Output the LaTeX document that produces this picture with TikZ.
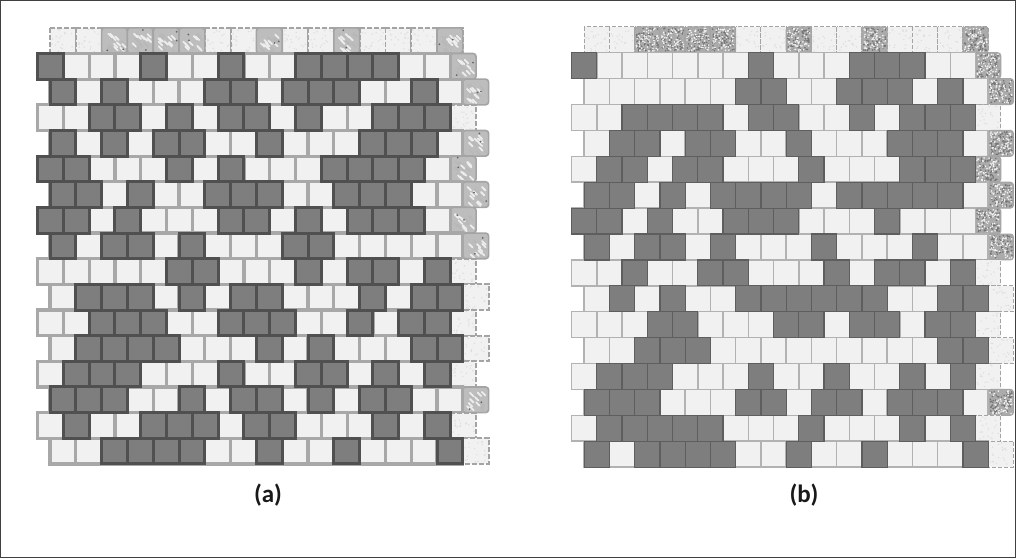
\documentclass[tikz,border=0pt]{standalone}
\usepackage{fontspec}
\setmainfont{Carlito}
\definecolor{lightfill}{HTML}{F1F1F1}
\definecolor{darkfill}{HTML}{7E7E7E}
\definecolor{edgeAlight}{HTML}{A8A8A8}
\definecolor{edgeAdark}{HTML}{505050}
\definecolor{edgeBlight}{HTML}{B2B2B2}
\definecolor{edgeBdark}{HTML}{5E5E5E}
\definecolor{grainbase}{HTML}{ABABAB}
\definecolor{coarsebase}{HTML}{BDBDBD}
\definecolor{selvedgeedge}{HTML}{A4A4A4}
\tikzset{
  lightA/.style={fill=lightfill,draw=edgeAlight,line width=3.2pt},
  darkA/.style={fill=darkfill,draw=edgeAdark,line width=3pt},
  lightB/.style={fill=lightfill,draw=edgeBlight,line width=1.5pt},
  darkB/.style={fill=darkfill,draw=edgeBdark,line width=1.2pt},
  coarseA/.style={fill=coarsebase,draw=selvedgeedge,line width=1.6pt,rounded corners=3pt},
  coarseB/.style={fill=grainbase,draw=selvedgeedge,line width=1pt,rounded corners=3pt},
  paleA/.style={fill=lightfill,draw=selvedgeedge,line width=1.8pt,dash pattern=on 5pt off 2pt},
  paleB/.style={fill=lightfill,draw=selvedgeedge,line width=1pt,dash pattern=on 4pt off 2pt},
  caption/.style={font=\bfseries\fontsize{25}{28}\selectfont,text=black!90,inner sep=0pt},
  frameline/.style={draw=black!75,line width=1pt}
}
% Dark list per row, selvedge kind: T textured, L light
\def\dataA{1/{0,4,7,10,11,12,13}/T,
2/{0,2,6,7,9,10,11,14}/T,
3/{2,3,5,7,8,10,13,14,15}/L,
4/{0,2,4,5,8,12,13,14}/T,
5/{0,1,5,7,11,12,13,14}/T,
6/{0,1,3,6,7,8,11,12,13}/T,
7/{0,1,3,7,8,10,12,13,14}/T,
8/{0,2,3,5,9,10}/T,
9/{5,6,10,12,13,15}/L,
10/{1,2,3,5,7,8,12,14,15}/L,
11/{2,3,4,7,8,9,12,14,15}/L,
12/{1,2,3,4,8,10,14,15}/L,
13/{1,2,3,7,10,11,13,15}/L,
14/{0,1,2,5,7,8,10,12,13}/T,
15/{1,4,5,6,8,9,13,15}/L,
16/{2,3,4,5,8,11,15}/L}
\def\dataB{1/{0,7,11,12,13}/T,
2/{6,7,10,11,12,14}/T,
3/{2,3,4,5,7,8,11,13,14,15}/L,
4/{1,2,4,5,8,12,13,14}/T,
5/{1,2,4,5,9,13,14,15}/T,
6/{0,1,3,5,6,7,8,10,11,12,13,14}/T,
7/{0,1,3,6,7,8,12}/T,
8/{0,2,3,5,9,13}/T,
9/{2,5,6,10,12,13,15}/L,
10/{1,3,6,7,8,9,10,11,14,15}/L,
11/{3,4,8,9,11,12,14,15}/L,
12/{2,3,4,14,15}/L,
13/{1,2,3,7,10,13,15}/L,
14/{0,1,2,6,7,9,10,12,13,14}/T,
15/{1,2,3,4,5,9,13,15}/L,
16/{0,2,3,4,5,8,11,15}/L}
% grain: x y w h count radius colour
\newcommand\grainspots[7]{%
  \foreach \k in {1,...,#5}{%
    \pgfmathsetmacro\gx{#1+1.5+rnd*(#3-3)}%
    \pgfmathsetmacro\gy{#2+1.5+rnd*(#4-3)}%
    \fill[#7] (\gx,\gy) circle (#6pt);
  }}
\newcommand\grainstrokes[6]{%
  \foreach \k in {1,...,#5}{%
    \pgfmathsetmacro\gx{#1+4+rnd*(#3-9)}%
    \pgfmathsetmacro\gy{#2+5+rnd*(#4-9)}%
    \draw[#6,line width=1.8pt,line cap=round] (\gx,\gy) -- ++(3.5,3.5);
  }}
\newcommand\textureA[4]{%
  \grainstrokes{#1}{#2}{#3}{#4}{9}{black!28}%
  \grainstrokes{#1}{#2}{#3}{#4}{9}{black!7}%
  \grainspots{#1}{#2}{#3}{#4}{2}{1}{black!60}}
\newcommand\textureB[4]{%
  \grainspots{#1}{#2}{#3}{#4}{70}{0.9}{black!55}%
  \grainspots{#1}{#2}{#3}{#4}{55}{0.9}{white!90!gray}}
\newcommand\texturePale[4]{%
  \grainspots{#1}{#2}{#3}{#4}{18}{0.8}{black!13}}
% #1 data #2 x0 #3 offset #4 pitchx #5 y0 #6 pitchy #7 A/B
\newcommand\panel[7]{%
  % top strip
  \foreach \i in {0,...,15}{%
    \pgfmathsetmacro\cx{#2+#3+\i*#4}%
    \pgfmathsetmacro\cy{#5-#6}%
    \draw[pale#7] (\cx,\cy) rectangle ++(#4,#6);
    \texturePale{\cx}{\cy}{#4}{#6}%
  }
  \foreach \i in {2,3,4,5,8,11,15}{%
    \pgfmathsetmacro\cx{#2+#3+\i*#4}%
    \pgfmathsetmacro\cy{#5-#6}%
    \draw[coarse#7] (\cx,\cy) rectangle ++(#4,#6);
    \csname texture#7\endcsname{\cx}{\cy}{#4}{#6}%
  }
  % selvedge and light bricks
  \foreach \r/\d/\s in #1{%
    \pgfmathsetmacro\cy{#5+(\r-1)*#6}%
    \pgfmathsetmacro\cx{#2+(1-mod(\r,2))*#3+16*#4}%
    \if\s T
      \draw[coarse#7] (\cx,\cy) rectangle ++(#4,#6);
      \csname texture#7\endcsname{\cx}{\cy}{#4}{#6}%
    \else
      \draw[pale#7] (\cx,\cy) rectangle ++(#4,#6);
      \texturePale{\cx}{\cy}{#4}{#6}%
    \fi
    \foreach \i in {0,...,15}{%
      \pgfmathsetmacro\bx{#2+(1-mod(\r,2))*#3+\i*#4}%
      \draw[light#7] (\bx,\cy) rectangle ++(#4,#6);
    }
  }
  % dark bricks on top
  \foreach \r/\d/\s in #1{%
    \pgfmathsetmacro\cy{#5+(\r-1)*#6}%
    \foreach \i in \d{%
      \pgfmathsetmacro\bx{#2+(1-mod(\r,2))*#3+\i*#4}%
      \draw[dark#7] (\bx,\cy) rectangle ++(#4,#6);
    }
  }
}
\begin{document}
\begin{tikzpicture}[x=1pt,y=-1pt]
\useasboundingbox (0,0) rectangle (1016,558);
\fill[white] (0,0) rectangle (1016,558);
\pgfmathsetseed{4242}
\panel{\dataA}{37.5}{12.5}{25.8}{53.5}{25.65}{A}
\panel{\dataB}{571.5}{12.7}{25.25}{52.7}{25.9}{B}
\node[caption] (labela) at (268,495) {(a)};
\node[caption] (labelb) at (804,495) {(b)};
\draw[frameline] (0.5,0.5) rectangle (1015.5,557.5);
\end{tikzpicture}
\end{document}
